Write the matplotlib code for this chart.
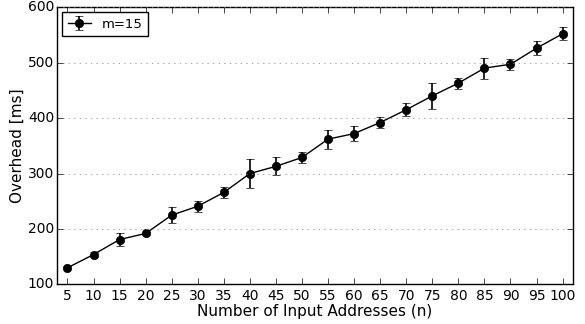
import matplotlib
matplotlib.use("Agg")
import matplotlib.pyplot as plt

# data
n_values = [5, 10, 15, 20, 25, 30, 35, 40, 45, 50,
            55, 60, 65, 70, 75, 80, 85, 90, 95, 100]
overhead = [130, 154, 181, 192, 225, 241, 266, 300, 313, 329,
            362, 372, 392, 415, 440, 463, 490, 497, 526, 552]
errors = [3, 5, 11, 3, 14, 10, 10, 26, 16, 10,
          17, 14, 10, 12, 24, 10, 19, 10, 13, 12]

plt.style.use("classic")

fig = plt.figure(figsize=(5.85, 3.24), dpi=100)
fig.patch.set_facecolor("white")
ax = fig.add_axes([0.0975, 0.122, 0.882, 0.856])

ax.errorbar(n_values, overhead, yerr=errors, color="black", marker="o",
            markersize=6, linewidth=1, capsize=3, elinewidth=1.2,
            label="m=15")

ax.set_xlim(3, 102)
ax.set_ylim(100, 600)
ax.set_xticks(n_values)
ax.set_yticks(range(100, 601, 100))
ax.yaxis.grid(True, linestyle=":", color="gray")
ax.tick_params(axis="x", labelsize=10, pad=3)
ax.tick_params(axis="y", labelsize=10, pad=2)

ax.set_xlabel("Number of Input Addresses (n)", fontsize=11, labelpad=1)
ax.set_ylabel("Overhead [ms]", fontsize=11, labelpad=2)

ax.legend(loc="upper left", numpoints=1, fontsize=9.5, handlelength=1.8,
          borderaxespad=0.4, borderpad=0.4)

fig.savefig("out.png", dpi=100, facecolor="white")
